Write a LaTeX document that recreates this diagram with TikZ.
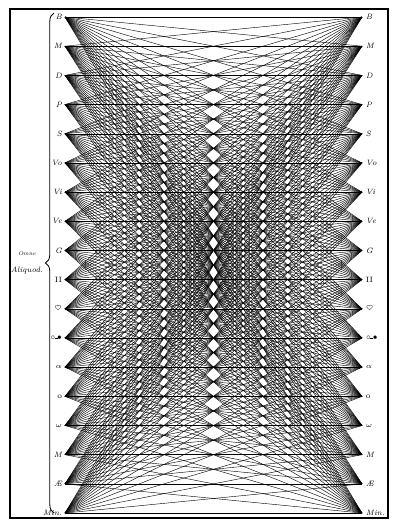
\documentclass[tikz,border=0pt]{standalone}
\usepackage{amsmath,amssymb}
\usepackage{xcolor}
\usepackage{tikz}
\usetikzlibrary{decorations.pathreplacing}

\newcommand{\keysign}{$\scriptscriptstyle\circ$\kern-0.6pt\rule[1pt]{2.2pt}{0.35pt}\kern-0.6pt$\scriptscriptstyle\bullet$}

\begin{document}
\begin{tikzpicture}[x=0.025cm,y=-0.025cm,
  lab/.style={font=\fontsize{5.5}{6}\selectfont\itshape,inner sep=0.5pt},
  web/.style={line width=0.3pt,black}]
  \useasboundingbox (0,0) rectangle (400,529);

  % outer frame
  \draw[line width=0.8pt] (10,9) rectangle (388,518);

  % eighteen terms, left column and right column
  \foreach \t [count=\i] in {B,M,D,P,S,Vo,Vi,Ve,G,{\upshape II},{$\heartsuit$},
      {\keysign},{$\alpha$},{\upshape o},{$\omega$},M,\AE,Min.}{
    \coordinate (L\i) at (65,{17+29.18*(\i-1)});
    \coordinate (R\i) at (362,{17+29.18*(\i-1)});
    \node[lab,anchor=east] (tL\i) at (63,{17+29.18*(\i-1)}) {\t};
    \node[lab,anchor=west] (tR\i) at (365,{17+29.18*(\i-1)}) {\t};
  }

  % every term joined to every term
  \foreach \i in {1,...,18}{
    \foreach \j in {1,...,18}{
      \draw[web] (L\i) -- (R\j);
    }
  }

  % brace and its caption
  \draw[line width=0.6pt,decorate,decoration={brace,amplitude=6pt}]
    (54,513) -- (54,13);
  \node[font=\itshape,align=center,inner sep=0pt] (omne) at (27,263)
    {\fontsize{4}{4}\selectfont Omne\\[0pt]\fontsize{5.5}{6}\selectfont Aliquod.};
\end{tikzpicture}
\end{document}
